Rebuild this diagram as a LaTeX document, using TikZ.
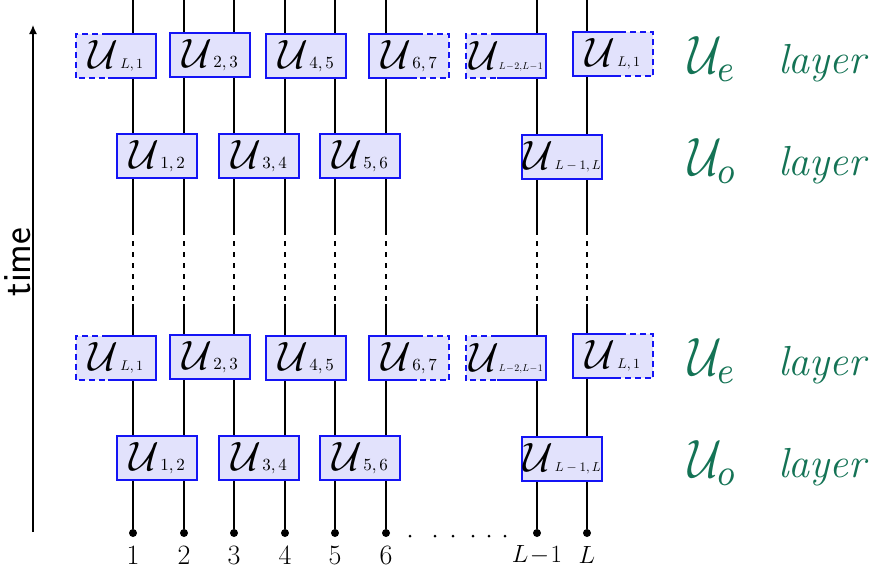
\documentclass[tikz,border=0pt]{standalone}
\usepackage{fontspec}
\usepackage{graphicx}
\usetikzlibrary{calc,arrows.meta}
\definecolor{boxfill}{RGB}{226,226,252}
\definecolor{boxblue}{RGB}{20,20,245}
\definecolor{lgreen}{RGB}{20,115,85}
\newcommand{\Ug}[2][1.7]{\scalebox{4.1}{$\mathcal{U}$}\,\scalebox{#1}{$#2$}}
\newcommand{\GateLeftDash}[2]{%
  \draw[bord] ($(#1.north west)+(#2,0)$) -- (#1.north east) -- (#1.south east) -- ($(#1.south west)+(#2,0)$);
  \draw[bord,dash pattern=on 6pt off 4pt] ($(#1.north west)+(#2,0)$) -- (#1.north west) -- (#1.south west) -- ($(#1.south west)+(#2,0)$);}
\newcommand{\GateRightDash}[2]{%
  \draw[bord] ($(#1.north east)-(#2,0)$) -- (#1.north west) -- (#1.south west) -- ($(#1.south east)-(#2,0)$);
  \draw[bord,dash pattern=on 6pt off 4pt] ($(#1.north east)-(#2,0)$) -- (#1.north east) -- (#1.south east) -- ($(#1.south east)-(#2,0)$);}
\begin{document}
\begin{tikzpicture}[x=1pt,y=-1pt,
  gate/.style={draw=boxblue, line width=1.8pt, fill=boxfill, minimum width=80pt, minimum height=44pt, inner sep=0pt, text=black},
  gatefill/.style={fill=boxfill, minimum width=80pt, minimum height=44pt, inner sep=0pt, text=black},
  bord/.style={draw=boxblue, line width=1.8pt},
  wire/.style={line width=1.3pt, black},
  wiredash/.style={line width=1.3pt, black, dash pattern=on 5pt off 6pt},
  qdot/.style={circle, fill=black, inner sep=0pt, minimum size=8pt},
  sdot/.style={circle, fill=black, inner sep=0pt, minimum size=3pt},
  num/.style={font=\fontsize{28}{30}\selectfont, inner sep=0pt},
  bigU/.style={text=lgreen, inner sep=0pt, anchor=base west},
  lay/.style={text=lgreen, inner sep=0pt, anchor=base west, font=\fontsize{42}{44}\selectfont\itshape}]
\useasboundingbox (0,0) rectangle (878,574);
% time axis
\coordinate (tb) at (33,532);
\coordinate (tt) at (33,25);
\draw[line width=1.3pt, -{Latex[length=9pt,width=8pt]}] (tb) -- (tt);
\node[rotate=90, font=\sffamily\fontsize{40}{42}\selectfont, inner sep=0pt] (time) at (18,262) {time};
% wires
\foreach \x/\lab [count=\i] in {133/1,184/2,234/3,285/4,335/5,386/6,537/{$L\!-\!1$},587/$L$}{
  \coordinate (t\i) at (\x,0);
  \coordinate (a\i) at (\x,230);
  \coordinate (b\i) at (\x,304);
  \node[qdot] (d\i) at (\x,533) {};
  \draw[wire] (t\i) -- (a\i);
  \draw[wiredash] (a\i) -- (b\i);
  \draw[wire] (b\i) -- (d\i);
  \node[num] (n\i) at (\x,555) {\lab};
}
\foreach \x [count=\j] in {410,435,453,473,489,505}
  \node[sdot] (s\j) at (\x,536) {};
% layers (top pair and bottom pair)
\foreach \dy/\k in {0/a,302/b}{
  % U_e layer
  \node[gatefill] (UL1\k) at (116,56+\dy) {\Ug[1.4]{L,1}};
  \node[gate] (U23\k) at (210,55+\dy) {\Ug{2,3}};
  \node[gate] (U45\k) at (306,56+\dy) {\Ug{4,5}};
  \node[gatefill] (U67\k) at (409,56+\dy) {\Ug{6,7}};
  \node[gatefill] (ULL\k) at (506,56+\dy) {\scalebox{4.1}{$\mathcal{U}$}\scalebox{1.0}{$L\!-\!2,\!L\!-\!1$}};
  \node[gatefill] (ULr\k) at (613,54+\dy) {\Ug[1.4]{L,1}};
  \GateLeftDash{UL1\k}{32}
  \GateRightDash{U67\k}{32}
  \GateLeftDash{ULL\k}{31}
  \GateRightDash{ULr\k}{33}
  % U_o layer
  \node[gate] (U12\k) at (157,156+\dy) {\Ug{1,2}};
  \node[gate] (U34\k) at (259,156+\dy) {\Ug{3,4}};
  \node[gate] (U56\k) at (360,156+\dy) {\Ug{5,6}};
  \node[gate] (UoL\k) at (562,157+\dy) {\Ug[1.3]{L-1,L}};
  % labels
  \node[bigU] (Ue\k) at (688,73+\dy) {\scalebox{4.6}[5.4]{$\mathcal{U}_e$}};
  \node[lay] (le\k) at (778,73+\dy) {layer};
  \node[bigU] (Uo\k) at (688,175+\dy) {\scalebox{4.6}[5.4]{$\mathcal{U}_o$}};
  \node[lay] (lo\k) at (778,175+\dy) {layer};
}
\end{tikzpicture}
\end{document}
